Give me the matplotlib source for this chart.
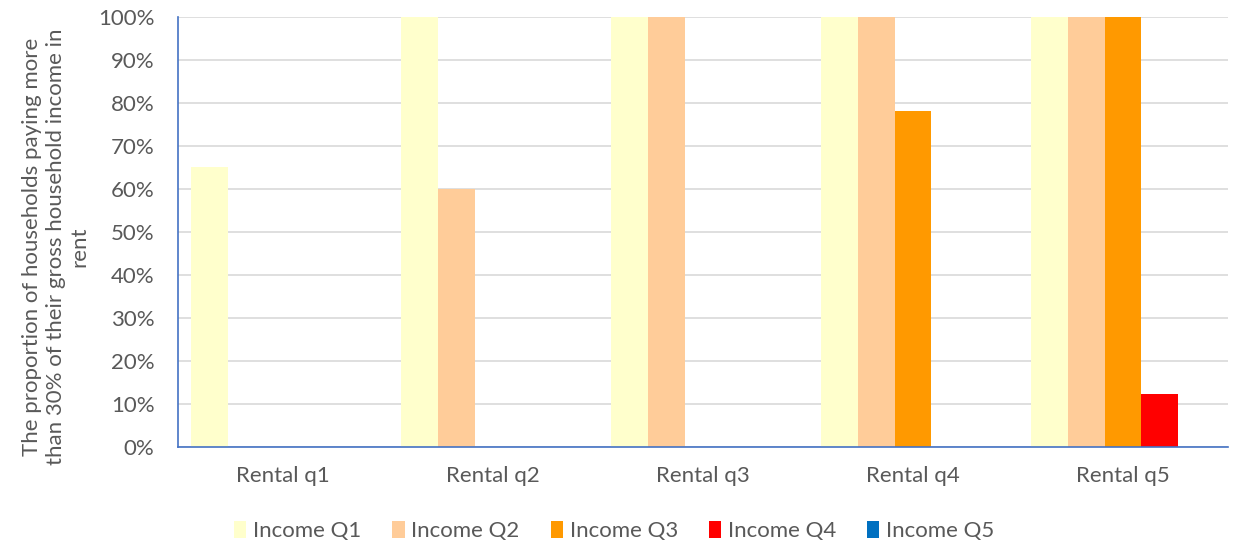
import matplotlib
import numpy as np

matplotlib.use("Agg")
matplotlib.rcParams["font.family"] = ["Lato", "DejaVu Sans"]
import matplotlib.pyplot as plt  # noqa: E402
from matplotlib.ticker import PercentFormatter  # noqa: E402

CATEGORIES = ["Rental q1", "Rental q2", "Rental q3", "Rental q4", "Rental q5"]
SERIES = ["Income Q1", "Income Q2", "Income Q3", "Income Q4", "Income Q5"]
COLORS = ["#FFFFCC", "#FFCC99", "#FF9900", "#FF0000", "#0070C0"]

INCOME_Q1 = [65.1, 100, 100, 100, 100]
INCOME_Q2 = [0, 60.0, 100, 100, 100]
INCOME_Q3 = [0, 0, 0, 78.1, 100]
INCOME_Q4 = [0, 0, 0, 0, 12.3]
INCOME_Q5 = [0, 0, 0, 0, 0]
VALUES = [INCOME_Q1, INCOME_Q2, INCOME_Q3, INCOME_Q4, INCOME_Q5]

TEXT = "#595959"
FS = 16

fig = plt.figure(figsize=(12.36, 5.44), dpi=100)
ax = fig.add_axes([178 / 1236, 1 - 447 / 544, 1050 / 1236, 430 / 544])

x = np.arange(len(CATEGORIES))
w = 0.175
for i, (name, vals, col) in enumerate(zip(SERIES, VALUES, COLORS)):
    ax.bar(x + (i - 2) * w, vals, width=w, color=col, label=name, zorder=2)

ax.set_xlim(-0.5, len(CATEGORIES) - 0.5)
ax.set_ylim(0, 100)
ax.set_yticks(np.arange(0, 101, 10))
ax.yaxis.set_major_formatter(PercentFormatter(decimals=0))
ax.set_xticks(x)
ax.set_xticklabels(CATEGORIES)
ax.tick_params(axis="both", length=0, labelsize=FS, colors=TEXT)
ax.tick_params(axis="x", pad=14)
ax.tick_params(axis="y", pad=17)
ax.grid(axis="y", color="#D9D9D9", lw=1.2, zorder=0)
ax.set_axisbelow(True)
for s in ("top", "right"):
    ax.spines[s].set_visible(False)
for s in ("left", "bottom"):
    ax.spines[s].set_color("#4472C4")
    ax.spines[s].set_linewidth(1.2)

ax.set_ylabel(
    "The proportion of households paying more\nthan 30% of their gross household income in\nrent",
    fontsize=FS, color=TEXT, linespacing=1.25,
)
ax.yaxis.set_label_coords(-0.084, 0.465)

fig.legend(
    *ax.get_legend_handles_labels(),
    loc="center", bbox_to_anchor=(0.497, 1 - 531 / 544), ncol=5, frameon=False,
    fontsize=FS, labelcolor=TEXT, handlelength=0.55, handleheight=0.8,
    handletextpad=0.3, columnspacing=1.4,
)

fig.savefig("out.png", dpi=100)
